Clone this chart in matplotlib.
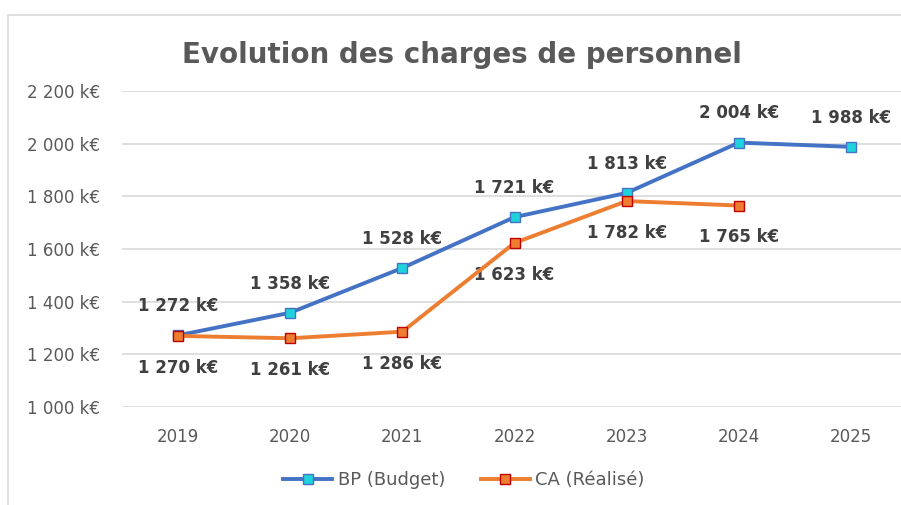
import matplotlib
matplotlib.use("Agg")
import matplotlib.pyplot as plt
from matplotlib.patches import Rectangle

# Data
years = [2019, 2020, 2021, 2022, 2023, 2024, 2025]
bp_budget = [1272, 1358, 1528, 1721, 1813, 2004, 1988]
ca_years = [2019, 2020, 2021, 2022, 2023, 2024]
ca_realise = [1270, 1261, 1286, 1623, 1782, 1765]
y_ticks = [1000, 1200, 1400, 1600, 1800, 2000, 2200]


def fmt_keur(v):
    return f"{v:,.0f}".replace(",", " ") + " k€"


plt.rcParams["font.family"] = ["DejaVu Sans"]

fig = plt.figure(figsize=(9.01, 5.05), dpi=100)
W, H = 901, 505

# chart frame
fig.patches.append(Rectangle((8 / W, -0.1), 1.2, (H - 15) / H + 0.1,
                             transform=fig.transFigure, fill=False,
                             edgecolor="#D9D9D9", linewidth=1.2))

ax = fig.add_axes([122 / W, (H - 407) / H, (907 - 122) / W, (407 - 91) / H])

ax.plot(years, bp_budget, color="#4472C4", linewidth=2.8, marker="s",
        markersize=7.5, markerfacecolor="#1FD3DC", markeredgecolor="#4472C4",
        markeredgewidth=1.0, label="BP (Budget)", zorder=3)
ax.plot(ca_years, ca_realise, color="#ED7D31", linewidth=2.8, marker="s",
        markersize=7.5, markerfacecolor="#ED7D31", markeredgecolor="#C00000",
        markeredgewidth=1.0, label="CA (Réalisé)", zorder=4)

for x, v in zip(years, bp_budget):
    ax.annotate(fmt_keur(v), (x, v), xytext=(0, 21), textcoords="offset points",
                ha="center", va="center", fontsize=12, fontweight="bold",
                color="#404040")
for x, v in zip(ca_years, ca_realise):
    ax.annotate(fmt_keur(v), (x, v), xytext=(0, -23), textcoords="offset points",
                ha="center", va="center", fontsize=12, fontweight="bold",
                color="#404040")

ax.set_xlim(2018.5, 2025.5)
ax.set_ylim(1000, 2200)
ax.set_yticks(y_ticks)
ax.set_yticklabels([fmt_keur(v) for v in y_ticks])
ax.set_xticks(years)
ax.set_xticklabels([str(y) for y in years])
ax.tick_params(axis="both", length=0, labelsize=12, colors="#595959")
ax.tick_params(axis="y", pad=16)
ax.tick_params(axis="x", pad=15)
ax.grid(axis="y", color="#D9D9D9", linewidth=1.2)
ax.set_axisbelow(True)
for s in ax.spines.values():
    s.set_visible(False)

fig.text(462 / W, (H - 55) / H, "Evolution des charges de personnel",
         ha="center", va="center", fontsize=20, fontweight="bold",
         color="#595959")

fig.legend(loc="center", bbox_to_anchor=(464 / W, (H - 480) / H), ncol=2,
           frameon=False, fontsize=13, labelcolor="#595959",
           handlelength=2.7, columnspacing=2.0, handletextpad=0.3)

fig.savefig("out.png", dpi=100)
